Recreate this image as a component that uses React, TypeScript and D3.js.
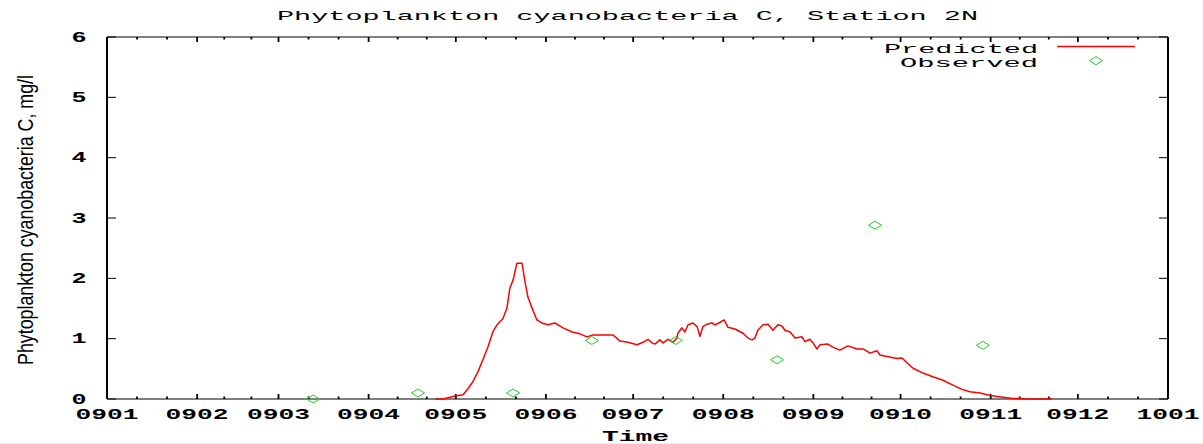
import React from "react";
import * as d3 from "d3";

// ---- data ----
const title = "Phytoplankton cyanobacteria C, Station 2N";
const yTitle = "Phytoplankton cyanobacteria C, mg/l";
const xTitle = "Time";
const seriesNames = ["Predicted", "Observed"];

const startDate = new Date(2009, 0, 1);
const endDate = new Date(2010, 0, 1);
const xTickLabels = ["0901", "0902", "0903", "0904", "0905", "0906", "0907", "0908", "0909", "0910", "0911", "0912", "1001"];
const yTicks = [0, 1, 2, 3, 4, 5, 6];

// days after 2009-01-01
const predictedDay = [113, 115.6, 119.7, 122.5, 124.2, 125.9, 127.6, 129.3, 131.1, 132.8, 134.2, 136.2, 137.6, 138.6, 139.7, 141.0, 142.8, 143.8, 144.8, 146.2, 147.9, 149.6, 151.7, 154.1, 156.9, 160.0, 162.7, 165.1, 167.2, 170.6, 174.1, 176.5, 179.2, 182.3, 184.4, 186.1, 187.5, 188.5, 190.2, 191.3, 193.0, 194.7, 196.1, 196.4, 197.8, 198.8, 199.9, 201.6, 203.0, 204.0, 205.0, 206.4, 208.1, 209.2, 210.5, 212.3, 213.6, 216.0, 218.8, 220.5, 221.9, 222.9, 223.9, 225.7, 227.4, 229.1, 230.8, 232.2, 233.2, 235.0, 236.7, 239.1, 240.1, 241.8, 242.9, 244.2, 245.3, 248.0, 249.7, 252.1, 254.9, 258.0, 260.1, 262.5, 264.9, 265.9, 268.7, 271.8, 273.5, 275.2, 277.3, 280.7, 284.1, 287.6, 291.0, 294.1, 296.9, 300.3, 302.7, 306.2, 311.7, 316.5, 325.1];
const predictedValue = [0, 0, 0.05, 0.07, 0.17, 0.29, 0.45, 0.65, 0.87, 1.12, 1.23, 1.33, 1.51, 1.84, 1.97, 2.25, 2.25, 1.94, 1.69, 1.51, 1.31, 1.26, 1.23, 1.26, 1.18, 1.11, 1.08, 1.03, 1.06, 1.06, 1.06, 0.96, 0.94, 0.90, 0.94, 0.99, 0.93, 0.91, 0.98, 0.93, 0.99, 0.94, 1.01, 1.09, 1.18, 1.11, 1.23, 1.26, 1.20, 1.04, 1.20, 1.24, 1.26, 1.23, 1.26, 1.31, 1.19, 1.16, 1.09, 1.01, 0.98, 1.01, 1.14, 1.23, 1.24, 1.14, 1.23, 1.21, 1.14, 1.11, 1.01, 1.03, 0.95, 0.99, 0.93, 0.83, 0.90, 0.91, 0.86, 0.81, 0.88, 0.83, 0.83, 0.76, 0.80, 0.73, 0.70, 0.67, 0.68, 0.60, 0.51, 0.43, 0.37, 0.31, 0.23, 0.16, 0.12, 0.10, 0.07, 0.04, 0.01, 0, 0];

const observedDay = [70.9, 107.0, 139.7, 166.8, 195.7, 230.5, 264.2, 301.3];
const observedValue = [0, 0.1, 0.1, 0.97, 0.97, 0.65, 2.88, 0.89];

// ---- layout ----
const W = 1203, H = 444;
const left = 107, right = 1168, top = 37, bottom = 399;
const RED = "#ff0000";
const GREEN = "#22cc22";
const MONO = "'Liberation Mono', 'DejaVu Sans Mono', monospace";

const dayToDate = (d: number) => new Date(startDate.getTime() + d * 864e5);

export default function App() {
  const x = d3.scaleTime().domain([startDate, endDate]).range([left, right]);
  const y = d3.scaleLinear().domain([0, 6]).range([bottom, top]);

  const months = d3.timeMonth.range(startDate, d3.timeDay.offset(endDate, 1));
  const minor: Date[] = [];
  for (let i = 0; i < months.length - 1; i++) {
    const a = months[i].getTime(), b = months[i + 1].getTime();
    minor.push(new Date(a + (b - a) / 3), new Date(a + (2 * (b - a)) / 3));
  }

  const pred = predictedDay.map((d, i) => ({ date: dayToDate(d), v: predictedValue[i] }));
  const obs = observedDay.map((d, i) => ({ date: dayToDate(d), v: observedValue[i] }));

  const line = d3.line<{ date: Date; v: number }>().x(d => x(d.date)).y(d => y(d.v));
  const diamond = (cx: number, cy: number) => `M${cx - 6.5},${cy}L${cx},${cy - 4}L${cx + 6.5},${cy}L${cx},${cy + 4}Z`;

  return (
    <svg width={W} height={H} style={{ position: "absolute", left: 0, top: 0, background: "#fff" }}>
      <rect x={0} y={0} width={W} height={H} fill="#fff" />
      <line x1={0} x2={W} y1={443.5} y2={443.5} stroke="#ececf6" />
      {/* title */}
      <text x={277} y={20} fontFamily={MONO} fontSize={13} textLength={701} lengthAdjust="spacingAndGlyphs">{title}</text>

      {/* border */}
      <line x1={left} x2={right} y1={top} y2={top} stroke="#000" strokeWidth={1} />
      <line x1={left} x2={right} y1={bottom} y2={bottom} stroke="#000" strokeWidth={1.2} />
      <line x1={left} x2={left} y1={top} y2={bottom} stroke="#000" strokeWidth={2} />
      <line x1={right} x2={right} y1={top} y2={bottom} stroke="#000" strokeWidth={2} />

      {/* x ticks */}
      {months.map((m, i) => (
        <g key={"mx" + i}>
          <line x1={x(m)} x2={x(m)} y1={bottom} y2={bottom - 5} stroke="#000" strokeWidth={1.8} />
          <line x1={x(m)} x2={x(m)} y1={top} y2={top + 5} stroke="#000" strokeWidth={1.8} />
          <text x={x(m)} y={419} textAnchor="middle" fontFamily={MONO} fontWeight="bold" fontSize={14} textLength={63} lengthAdjust="spacingAndGlyphs">{xTickLabels[i]}</text>
        </g>
      ))}
      {minor.map((m, i) => (
        <g key={"mn" + i}>
          <line x1={x(m)} x2={x(m)} y1={bottom} y2={bottom - 2.5} stroke="#000" strokeWidth={1.8} />
          <line x1={x(m)} x2={x(m)} y1={top} y2={top + 2.5} stroke="#000" strokeWidth={1.8} />
        </g>
      ))}

      {/* y ticks */}
      {yTicks.map(t => (
        <g key={"y" + t}>
          <line x1={left} x2={left + 9} y1={y(t)} y2={y(t)} stroke="#000" strokeWidth={1} />
          <line x1={right} x2={right - 9} y1={y(t)} y2={y(t)} stroke="#000" strokeWidth={1} />
          <text x={79} y={y(t) + 4.5} textAnchor="middle" fontFamily={MONO} fontWeight="bold" fontSize={14} textLength={15} lengthAdjust="spacingAndGlyphs">{t}</text>
        </g>
      ))}

      {/* axis titles */}
      <text x={602} y={441} fontFamily={MONO} fontWeight="bold" fontSize={14} textLength={67} lengthAdjust="spacingAndGlyphs">{xTitle}</text>
      <text transform="translate(33,220) rotate(-90) scale(1,1.83)" textAnchor="middle" fontFamily="'Liberation Sans', Arial, sans-serif" fontSize={12} textLength={290} lengthAdjust="spacingAndGlyphs">{yTitle}</text>

      {/* predicted */}
      <path d={line(pred) || ""} fill="none" stroke={RED} strokeWidth={1.5} strokeLinejoin="round" />
      {/* observed */}
      {obs.map((o, i) => (
        <path key={"o" + i} d={diamond(x(o.date), y(o.v))} fill="none" stroke={GREEN} strokeWidth={1} />
      ))}

      {/* legend */}
      <text x={1038} y={52.5} textAnchor="end" fontFamily={MONO} fontSize={12.5} textLength={154} lengthAdjust="spacingAndGlyphs">{seriesNames[0]}</text>
      <line x1={1057} x2={1135} y1={46.5} y2={46.5} stroke={RED} strokeWidth={1.5} />
      <text x={1038} y={66.5} textAnchor="end" fontFamily={MONO} fontSize={12.5} textLength={138} lengthAdjust="spacingAndGlyphs">{seriesNames[1]}</text>
      <path d={diamond(1096, 60.7)} fill="none" stroke={GREEN} strokeWidth={1} />
    </svg>
  );
}
